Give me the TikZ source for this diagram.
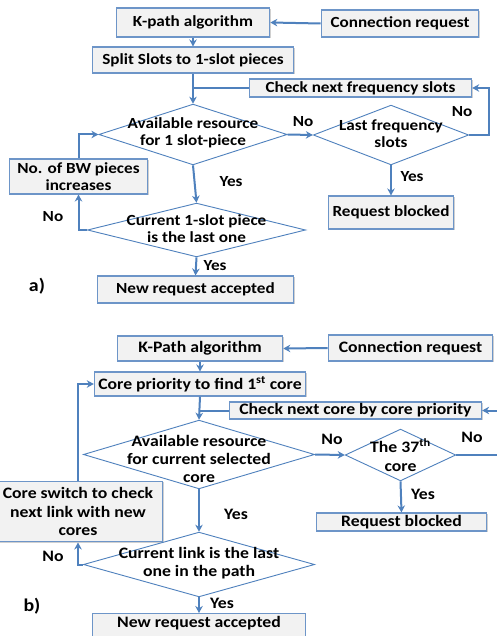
\documentclass[tikz,border=0pt]{standalone}
\usepackage{fontspec}
\setmainfont{Carlito}[FakeStretch=1.11]
\usetikzlibrary{arrows.meta,shapes.geometric,shadows}
\definecolor{lblue}{HTML}{4F81BD}
\definecolor{bblue}{HTML}{6D95C8}
\definecolor{bfill}{HTML}{F2F2F2}
\tikzset{
  fa/.style={font=\bfseries\fontsize{15.5}{17}\selectfont},
  fb/.style={font=\bfseries\fontsize{16}{18.5}\selectfont},
  box/.style={draw=bblue, fill=bfill, line width=1.2bp, align=center, inner sep=0pt,
    drop shadow={shadow xshift=1.2bp, shadow yshift=-1.2bp, opacity=0.3, fill=black!60}},
  dia/.style={diamond, draw=lblue, fill=white, line width=0.9bp, inner sep=0pt},
  txt/.style={align=center, inner sep=0pt},
  arr/.style={draw=lblue, line width=2bp, -{Stealth[length=7bp,width=7.5bp]}},
  ln/.style={draw=lblue, line width=2bp},
}
\begin{document}
\begin{tikzpicture}[x=1bp,y=-1bp]
\clip (0,0) rectangle (497,636);
\fill[white] (0,0) rectangle (497,636);
% ---------------- part a ----------------
\node[box,fa,minimum width=154,minimum height=29] (ka) at (193,22.5) {K-path algorithm};
\node[box,fa,minimum width=158,minimum height=27] (cra) at (400,23.5) {Connection request};
\node[box,fa,minimum width=202,minimum height=26] (spl) at (193,60) {Split Slots to 1-slot pieces};
\node[box,fa,minimum width=223,minimum height=18] (cnf) at (360.5,88) {Check next frequency slots};
\node[dia,minimum width=189,minimum height=61] (d1) at (193,134.5) {};
\node[txt,fa] (d1t) at (193,133) {Available resource\\for 1 slot-piece};
\node[dia,minimum width=156,minimum height=60] (d2) at (391,135) {};
\node[txt,fa] (d2t) at (391,134) {Last frequency\\slots};
\node[box,fa,minimum width=126,minimum height=33] (rba) at (391,212.5) {Request blocked};
\node[box,fa,minimum width=139,minimum height=35] (bw) at (78.5,176.5) {No. of BW pieces\\increases};
\node[dia,minimum width=219,minimum height=54] (d3) at (196.5,230) {};
\node[txt,fa] (d3t) at (196.5,229) {Current 1-slot piece\\is the last one};
\node[box,fa,minimum width=197,minimum height=27] (nra) at (195.5,289.5) {New request accepted};

\draw[arr] (cra.west) -- (ka.east);
\draw[arr] (ka.south) -- (spl.north);
\draw[arr] (spl.south) -- (d1.north);
\draw[ln] (cnf.west) -- (cnf.west -| spl.south);
\draw[arr] (d1.east) -- (d2.west);
\draw[arr] (d2.east) -- ++(20,0) |- (cnf.east);
\draw[arr] (d2.south) -- (rba.north);
\draw[arr] (bw.north) |- (d1.west);
\draw[arr] (d1.south) -- (d3.north);
\draw[arr] (d3.west) -| (bw.south);
\draw[arr] (d3.south) -- (nra.north);

\node[txt,fa] (la1) at (303,122) {No};
\node[txt,fa] (la2) at (462,112) {No};
\node[txt,fa] (la3) at (412,177) {Yes};
\node[txt,fa] (la4) at (231,182) {Yes};
\node[txt,fa] (la5) at (53,217) {No};
\node[txt,fa] (la6) at (215,266) {Yes};
\node[txt,font=\bfseries\fontsize{18}{20}\selectfont] (la) at (37,286) {a)};

% ---------------- part b ----------------
\node[box,fb,minimum width=166,minimum height=25] (kb) at (200,348.5) {K-Path algorithm};
\node[box,fb,minimum width=165,minimum height=26] (crb) at (410.5,348) {Connection request};
\node[box,fb,minimum width=212,minimum height=24] (cp) at (200,384) {Core priority to find 1\textsuperscript{st} core};
\node[box,fb,minimum width=253,minimum height=17] (cnc) at (355.5,410.5) {Check next core by core priority};
\node[dia,minimum width=232,minimum height=69] (d4) at (199,454.5) {};
\node[txt,fb] (d4t) at (199,459) {Available resource\\for current selected\\core};
\node[dia,minimum width=111,minimum height=52] (d5) at (400.5,455) {};
\node[txt,fb] (d5t) at (400.5,455) {The 37\textsuperscript{th}\\core};
\node[box,fb,minimum width=171,minimum height=18] (rbb) at (401.5,522) {Request blocked};
\node[box,fb,minimum width=170,minimum height=61] (cs) at (78,511.5) {Core switch to check\\next link with new\\cores};
\node[dia,minimum width=232,minimum height=65] (d6) at (199,564.5) {};
\node[txt,fb] (d6t) at (199,563) {Current link is the last\\one in the path};
\node[box,fb,minimum width=213,minimum height=0pt,text height=14bp,text depth=14bp,anchor=north] (nrb) at (199,613) {New request accepted};

\draw[arr] (crb.west) -- (kb.east);
\draw[arr] (kb.south) -- (cp.north);
\draw[arr] (cp.south) -- (d4.north);
\draw[ln] (cnc.west) -- (cnc.west -| cp.south);
\draw[arr] (d4.east) -- (d5.west);
\draw[arr] (d5.east) -- ++(50,0) |- (cnc.east);
\draw[arr] (d5.south) -- (rbb.north);
\draw[arr] (cs.north) |- (cp.west);
\draw[arr] (d4.south) -- (d6.north);
\draw[arr] (d6.west) -| (cs.south);
\draw[arr] (d6.south) -- (nrb.north);

\node[txt,fb] (lb1) at (332,439) {No};
\node[txt,fb] (lb2) at (472,437) {No};
\node[txt,fb] (lb3) at (423,494) {Yes};
\node[txt,fb] (lb4) at (236,514) {Yes};
\node[txt,fb] (lb5) at (53,556) {No};
\node[txt,fb] (lb6) at (222,603) {Yes};
\node[txt,font=\bfseries\fontsize{18}{20}\selectfont] (lb) at (32,606) {b)};
\end{tikzpicture}
\end{document}
